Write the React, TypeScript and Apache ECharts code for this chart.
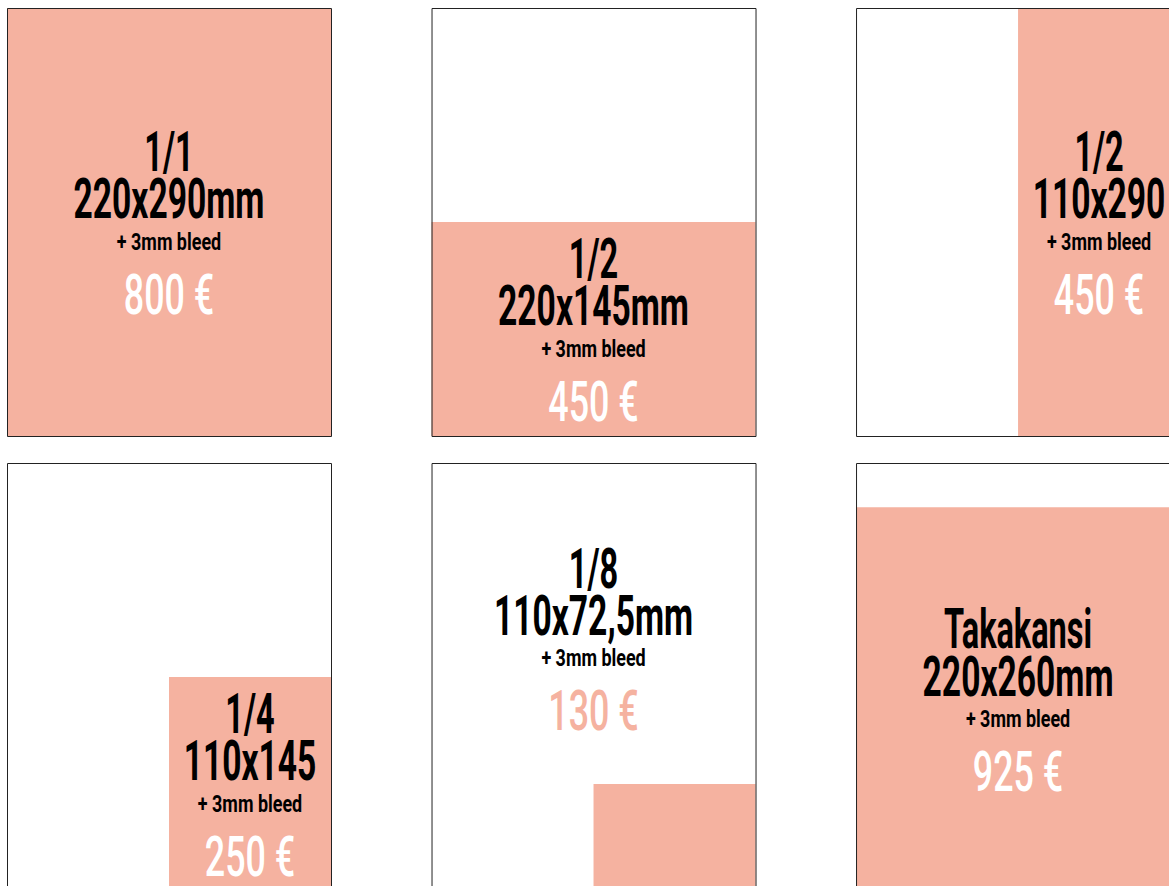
import React, { useEffect, useRef } from "react";
import * as echarts from "echarts";

// ---- data (mm) ----
const sizeNames = ["1/1", "1/2", "1/2", "1/4", "1/8", "Takakansi"];
const dimensionLabels = ["220x290mm", "220x145mm", "110x290", "110x145", "110x72,5mm", "220x260mm"];
const bleedNotes = ["+ 3mm bleed", "+ 3mm bleed", "+ 3mm bleed", "+ 3mm bleed", "+ 3mm bleed", "+ 3mm bleed"];
const prices = [800, 450, 450, 250, 130, 925];
const fillWidthsMm = [220, 220, 110, 110, 110, 220];
const fillHeightsMm = [290, 145, 290, 145, 72.5, 260];
const fillSideX = ["left", "left", "right", "right", "right", "left"];
const fillSideY = ["top", "bottom", "top", "bottom", "bottom", "bottom"];
const labelOnFill = [true, true, true, true, false, true];
const labelCenterYmm: (number | null)[] = [null, null, null, null, 119, null];

// ---- layout ----
const PAGE_W = 220;
const PAGE_H = 290;
const PITCH_X = 288.25;
const PITCH_Y = 308.3;
const SALMON = "#F5B2A0";
const BORDER = "#222222";
const FONT = "Roboto, 'Liberation Sans', sans-serif";

export default function App() {
  const ref = useRef<HTMLDivElement>(null);
  useEffect(() => {
    if (!ref.current) return;
    const chart = echarts.init(ref.current, undefined, { renderer: "svg" });
    const data = sizeNames.map((_, i) => [i]);
    chart.setOption({
      animation: false,
      grid: { left: 7, top: 8, right: 0, bottom: 0 },
      xAxis: { type: "value", min: 0, max: 789, show: false },
      yAxis: { type: "value", min: 0, max: 594.9, inverse: true, show: false },
      series: [
        {
          type: "custom",
          clip: false,
          data,
          encode: { x: 0 },
          renderItem: (params: any, api: any) => {
            const i = api.value(0);
            const col = i % 3;
            const row = Math.floor(i / 3);
            const px0 = col * PITCH_X;
            const py0 = row * PITCH_Y;
            const tl = api.coord([px0, py0]);
            const br = api.coord([px0 + PAGE_W, py0 + PAGE_H]);
            const fw = fillWidthsMm[i];
            const fh = fillHeightsMm[i];
            const fx0 = fillSideX[i] === "left" ? px0 : px0 + PAGE_W - fw;
            const fy0 = fillSideY[i] === "top" ? py0 : py0 + PAGE_H - fh;
            const ftl = api.coord([fx0, fy0]);
            const fbr = api.coord([fx0 + fw, fy0 + fh]);
            let cx: number, cy: number;
            if (labelOnFill[i]) {
              cx = (ftl[0] + fbr[0]) / 2;
              cy = (ftl[1] + fbr[1]) / 2;
            } else {
              cx = (tl[0] + br[0]) / 2;
              cy = api.coord([0, py0 + (labelCenterYmm[i] as number)])[1];
            }
            const txt = (text: string, y: number, size: number, weight: any, color: string, sx: number, lh: number) => ({
              type: "text",
              x: cx,
              y,
              scaleX: sx,
              style: {
                text,
                fill: color,
                fontSize: size,
                fontWeight: weight,
                fontFamily: FONT,
                lineHeight: lh,
                align: "center",
                verticalAlign: "middle",
              },
            });
            return {
              type: "group",
              children: [
                {
                  type: "rect",
                  shape: { x: tl[0], y: tl[1], width: br[0] - tl[0], height: br[1] - tl[1] },
                  style: { fill: "#ffffff", stroke: null },
                },
                {
                  type: "rect",
                  shape: { x: ftl[0], y: ftl[1], width: fbr[0] - ftl[0], height: fbr[1] - ftl[1] },
                  style: { fill: SALMON },
                },
                {
                  type: "rect",
                  shape: { x: tl[0] + 0.5, y: tl[1] + 0.5, width: br[0] - tl[0], height: br[1] - tl[1] },
                  style: { fill: null, stroke: BORDER, lineWidth: 1 },
                },
                txt(sizeNames[i], cy - 70, 56, 700, "#000000", 0.58, 44),
                txt(dimensionLabels[i], cy - 23, 56, 700, "#000000", 0.6, 44),
                txt(bleedNotes[i], cy + 20, 23, 700, "#000000", 0.78, 20),
                txt(prices[i] + " €", cy + 72, 56, 500, labelOnFill[i] ? "#ffffff" : SALMON, 0.64, 42),
              ],
            };
          },
        },
      ],
    });
    return () => chart.dispose();
  }, []);
  return (
    <div
      ref={ref}
      style={{ position: "fixed", left: 0, top: 0, width: 1169, height: 886, background: "#ffffff" }}
    />
  );
}
